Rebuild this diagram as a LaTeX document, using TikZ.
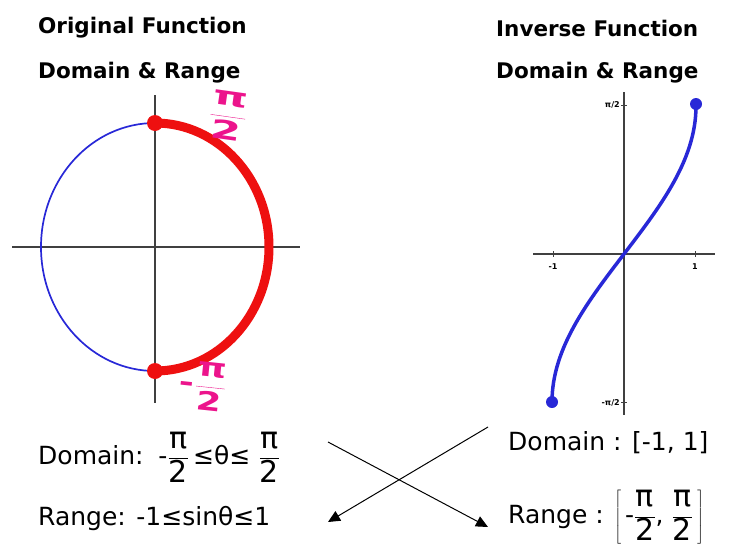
\documentclass[tikz,border=0pt]{standalone}
\usepackage{fontspec}
\setmainfont{DejaVu Sans}
\usepackage{xcolor}
\usepackage{graphicx}
\usetikzlibrary{arrows.meta}

\definecolor{markpink}{RGB}{236,20,140}
\definecolor{arcred}{RGB}{238,16,16}
\definecolor{curveblue}{RGB}{40,40,215}
\newcommand{\frc}[2]{$\displaystyle\frac{\mbox{#1}}{\mbox{#2}}$}
\newcommand{\bigfrc}[2]{$\displaystyle\frac{\mbox{\fontsize{30}{32}\selectfont#1}}{\mbox{\fontsize{30}{32}\selectfont#2}}$}

\begin{document}
\begin{tikzpicture}[x=1pt, y=-1pt,
  title/.style={font=\fontsize{21.5}{24}\selectfont\bfseries, anchor=west, inner sep=0pt},
  body/.style={font=\fontsize{25}{28}\selectfont, anchor=west, inner sep=0pt},
  pinklbl/.style={font=\fontsize{26}{28}\selectfont\bfseries, text=markpink, inner sep=0pt},
  axis/.style={line width=1.5pt, black!75},
  ticklbl/.style={font=\fontsize{8}{9}\selectfont\bfseries, inner sep=0pt},
  dot/.style={circle, inner sep=0pt},
  cross/.style={-{Triangle[length=12pt, width=11pt]}, line width=1pt}
]
\useasboundingbox (0,0) rectangle (740,552);

% Titles
\node[title] (origtitle) at (38,28) {Original Function};
\node[title] (origsub) at (38,73) {Domain \& Range};
\node[title] (invtitle) at (496,28) {Inverse Function};
\node[title] (invsub) at (496,73) {Domain \& Range};

% Original: unit circle
\draw[axis] (12,247) -- (300,247);
\draw[axis] (155,95) -- (155,403);
\draw[curveblue, line width=1.7pt] (155,247) ellipse [x radius=114, y radius=124];
\draw[arcred, line width=9pt] (155,123) arc[start angle=-90, end angle=90, x radius=114, y radius=124];
\node[dot, fill=arcred, minimum size=16pt] (top) at (155,123) {};
\node[dot, fill=arcred, minimum size=16pt] (bot) at (155,371) {};
\node[pinklbl, rotate=-8] (hpi) at (228,116) {\scalebox{1.7}[1]{\frc{π}{2}}};
\node[pinklbl, rotate=-6] (mhpi) at (203,386) {\scalebox{1.4}[1]{-\frc{π}{2}}};

% Inverse: arcsin
\draw[axis, line width=1.2pt] (533,254) -- (715,254);
\draw[axis, line width=1.2pt] (624,92) -- (624,415);
\foreach \tx in {553,695} \draw[axis, line width=1pt] (\tx,251) -- (\tx,257);
\foreach \ty in {105,402} \draw[axis, line width=1pt] (621,\ty) -- (627,\ty);
\node[ticklbl] (xm) at (553,267) {-1};
\node[ticklbl] (xp) at (695,267) {1};
\node[ticklbl, anchor=east] (yp) at (620,105) {π/2};
\node[ticklbl, anchor=east] (ym) at (620,403) {-π/2};
\draw[curveblue, line width=3.5pt] plot[domain=-90:90, samples=60] ({624+72*sin(\x)}, {254-148*\x/90});
\node[dot, fill=curveblue, minimum size=12pt] (cbot) at (552,402) {};
\node[dot, fill=curveblue, minimum size=12pt] (ctop) at (696,104) {};

% Domain and range texts
\node[body] (origdom) at (38,457) {Domain: \,-\bigfrc{π}{2}\,≤θ≤\,\,\bigfrc{π}{2}};
\node[body] (origran) at (38,518) {Range: -1≤sinθ≤1};
\node[body] (invdom) at (508,443) {Domain : [-1, 1]};
\node[body] (invran) at (508,517) {Range : $\left[\,\mbox{-}\displaystyle\frac{\mbox{\fontsize{30}{32}\selectfont π}}{\mbox{\fontsize{30}{32}\selectfont 2}}\mbox{, }\frac{\mbox{\fontsize{30}{32}\selectfont π}}{\mbox{\fontsize{30}{32}\selectfont 2}}\,\right]$};

% Arrows
\coordinate (a1) at (328,442);
\coordinate (b1) at (488,527);
\coordinate (a2) at (488,427);
\coordinate (b2) at (328,522);
\draw[cross] (a1) -- (b1);
\draw[cross] (a2) -- (b2);
\end{tikzpicture}
\end{document}
